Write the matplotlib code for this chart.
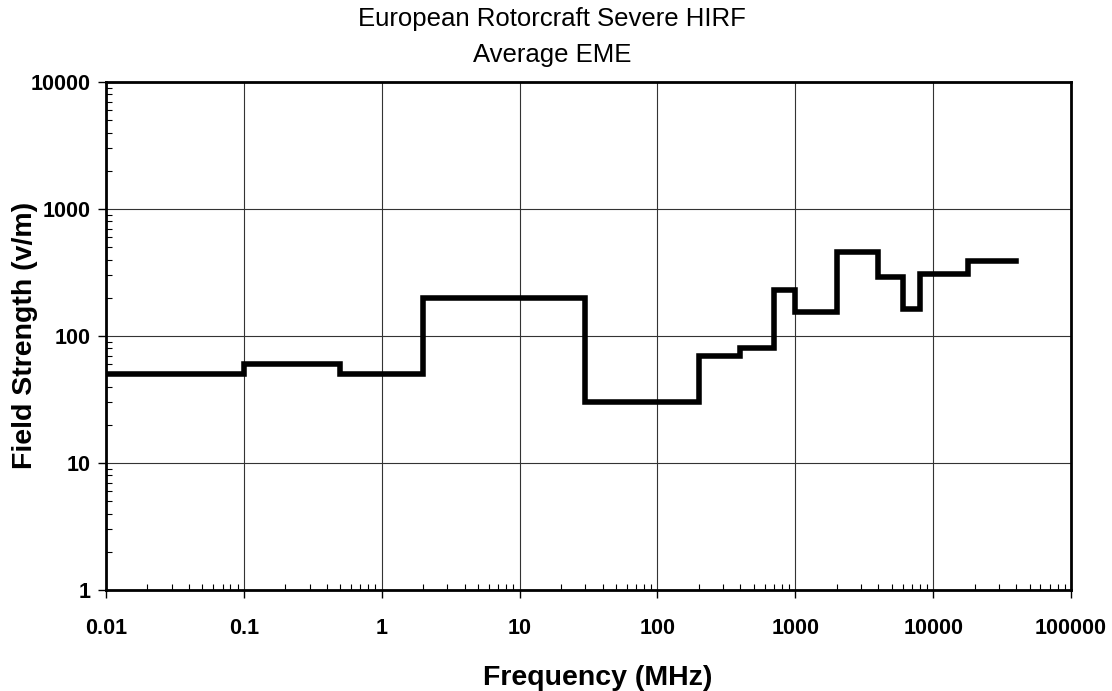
import matplotlib.pyplot as plt
import numpy as np
from matplotlib.ticker import FixedLocator, LogLocator, NullFormatter

plt.rcParams["font.family"] = ["Liberation Sans", "DejaVu Sans"]

# band edges (MHz) and average field strength (V/m) per band
freq_edges = [0.01, 0.1, 0.5, 2, 30, 200, 400, 700, 1000, 2000, 4000, 6000, 8000, 18000, 40000]
field_avg = [50, 60, 50, 200, 30, 70, 80, 232, 155, 460, 290, 163, 310, 390]

x_ticks = [0.01, 0.1, 1, 10, 100, 1000, 10000, 100000]
x_labels = ["0.01", "0.1", "1", "10", "100", "1000", "10000", "100000"]
y_ticks = [1, 10, 100, 1000, 10000]
y_labels = ["1", "10", "100", "1000", "10000"]

W, H = 1112, 691
fig = plt.figure(figsize=(W / 100, H / 100), dpi=100)
ax = fig.add_axes([106 / W, 1 - 590 / H, (1071 - 106) / W, (590 - 82) / H])

yy = field_avg + [field_avg[-1]]
ax.step(freq_edges, yy, where="post", color="black", lw=4, solid_joinstyle="miter")

ax.set_xscale("log")
ax.set_yscale("log")
ax.set_xlim(0.01, 100000)
ax.set_ylim(1, 10000)

ax.xaxis.set_major_locator(FixedLocator(x_ticks))
ax.set_xticklabels(x_labels)
ax.yaxis.set_major_locator(FixedLocator(y_ticks))
ax.set_yticklabels(y_labels)
ax.xaxis.set_minor_locator(LogLocator(base=10, subs=np.arange(2, 10), numticks=20))
ax.yaxis.set_minor_locator(LogLocator(base=10, subs=np.arange(2, 10), numticks=20))
ax.xaxis.set_minor_formatter(NullFormatter())
ax.yaxis.set_minor_formatter(NullFormatter())

ax.tick_params(which="major", direction="out", length=6, width=1, labelsize=15.5, pad=14)
ax.tick_params(axis="y", which="major", pad=5)
ax.tick_params(which="minor", direction="in", length=4, width=0.8)
for lab in ax.get_xticklabels() + ax.get_yticklabels():
    lab.set_fontweight("bold")

ax.grid(True, which="major", color="#333333", lw=0.8)
for s in ax.spines.values():
    s.set_linewidth(2)
    s.set_color("black")

ax.set_xlabel("Frequency (MHz)", fontsize=20.5, fontweight="bold", va="center")
ax.xaxis.set_label_coords((598 - 106) / (1071 - 106), -(678 - 590) / (590 - 82))
ax.set_ylabel("Field Strength (v/m)", fontsize=20.5, fontweight="bold", va="center")
ax.yaxis.set_label_coords(-(106 - 25) / (1071 - 106), (590 - 335) / (590 - 82))
fig.text(552 / W, 1 - 37 / H, "European Rotorcraft Severe HIRF\nAverage EME",
         ha="center", va="center", fontsize=18.5, linespacing=1.6)

fig.savefig("out.png", dpi=100)
